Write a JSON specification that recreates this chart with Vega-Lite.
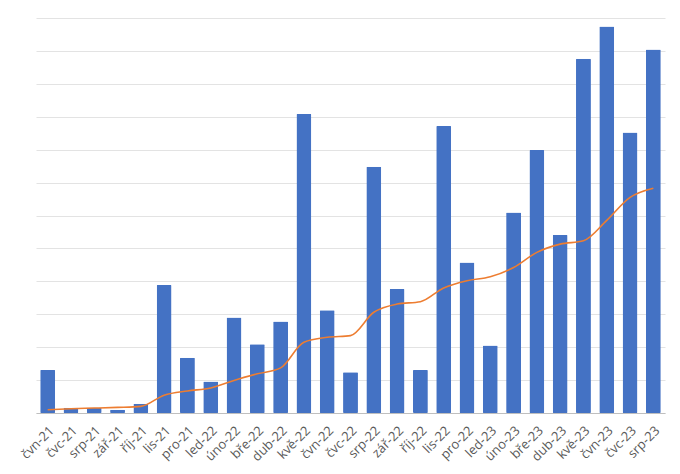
{
  "$schema": "https://vega.github.io/schema/vega-lite/v6.json",
  "width": 629,
  "height": 395,
  "autosize": "none",
  "padding": {"left": 36, "top": 18, "right": 15, "bottom": 61},
  "background": "white",
  "config": {"view": {"stroke": null}, "font": "Open Sans"},
  "data": {"values": [
    {"m": "čvn-21", "v": 1.31, "a": 0.10},
    {"m": "čvc-21", "v": 0.16, "a": 0.13},
    {"m": "srp-21", "v": 0.16, "a": 0.15},
    {"m": "zář-21", "v": 0.10, "a": 0.17},
    {"m": "říj-21", "v": 0.28, "a": 0.20},
    {"m": "lis-21", "v": 3.89, "a": 0.54},
    {"m": "pro-21", "v": 1.68, "a": 0.67},
    {"m": "led-22", "v": 0.96, "a": 0.76},
    {"m": "úno-22", "v": 2.90, "a": 0.99},
    {"m": "bře-22", "v": 2.09, "a": 1.19},
    {"m": "dub-22", "v": 2.78, "a": 1.37},
    {"m": "kvě-22", "v": 9.08, "a": 2.15},
    {"m": "čvn-22", "v": 3.12, "a": 2.30},
    {"m": "čvc-22", "v": 1.24, "a": 2.35},
    {"m": "srp-22", "v": 7.48, "a": 3.06},
    {"m": "zář-22", "v": 3.77, "a": 3.31},
    {"m": "říj-22", "v": 1.31, "a": 3.38},
    {"m": "lis-22", "v": 8.72, "a": 3.80},
    {"m": "pro-22", "v": 4.57, "a": 4.02},
    {"m": "led-23", "v": 2.05, "a": 4.14},
    {"m": "úno-23", "v": 6.09, "a": 4.42},
    {"m": "bře-23", "v": 7.99, "a": 4.88},
    {"m": "dub-23", "v": 5.41, "a": 5.13},
    {"m": "kvě-23", "v": 10.76, "a": 5.23},
    {"m": "čvn-23", "v": 11.74, "a": 5.85},
    {"m": "čvc-23", "v": 8.52, "a": 6.55},
    {"m": "srp-23", "v": 11.04, "a": 6.83}
  ]},
  "encoding": {
    "x": {
      "field": "m", "type": "nominal", "sort": null, "title": null,
      "scale": {"paddingInner": 0.36, "paddingOuter": 0.18},
      "axis": {"labelAngle": -45, "labelFontSize": 13, "labelColor": "#595959", "ticks": false, "domainColor": "#bfbfbf", "domainWidth": 1, "labelPadding": 11}
    }
  },
  "layer": [
    {
      "mark": {"type": "bar", "color": "#4472C4", "cornerRadius": 1},
      "encoding": {
        "y": {"field": "v", "type": "quantitative", "title": null,
          "scale": {"domain": [0, 12], "nice": false},
          "axis": {"values": [0,1,2,3,4,5,6,7,8,9,10,11,12], "labels": false, "ticks": false, "domain": false, "grid": true, "gridColor": "#e3e3e3", "gridWidth": 1}
        }
      }
    },
    {
      "mark": {"type": "line", "color": "#ED7D31", "strokeWidth": 1.6, "interpolate": "monotone"},
      "encoding": {
        "y": {"field": "a", "type": "quantitative", "title": null,
          "axis": {"values": [0,1,2,3,4,5,6,7,8,9,10,11,12], "labels": false, "ticks": false, "domain": false, "grid": true, "gridColor": "#e3e3e3", "gridWidth": 1}
        }
      }
    }
  ]
}
